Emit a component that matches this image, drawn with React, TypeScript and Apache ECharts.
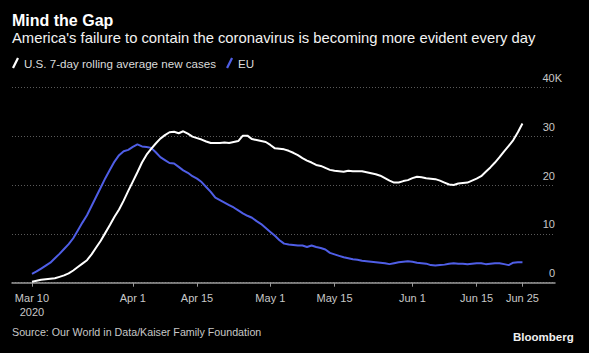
import React, { useEffect, useRef } from "react";
import * as echarts from "echarts";

// Daily values, in thousands of new cases, starting Mar 10 2020 (day 0) through Jun 25 (day 107)
const usCases: number[] = [
  0.2, 0.4, 0.6, 0.7, 0.8, 0.9, 1.2, 1.5, 1.9, 2.5,
  3.2, 3.9, 4.6, 5.8, 7.2, 8.6, 10.2, 11.8, 13.5, 15.0,
  16.8, 18.8, 20.7, 22.6, 24.6, 26.2, 27.4, 28.5, 29.5, 30.2,
  30.8, 30.9, 30.6, 31.0, 30.5, 29.9, 29.6, 29.3, 28.9, 28.6,
  28.6, 28.6, 28.7, 28.6, 28.8, 29.0, 30.1, 30.1, 29.4, 29.2,
  29.0, 28.8, 28.2, 27.5, 27.4, 27.3, 27.0, 26.6, 26.1, 25.5,
  25.0, 24.6, 24.1, 23.9, 23.5, 23.1, 22.9, 22.8, 22.7, 22.9,
  22.8, 22.8, 22.8, 22.6, 22.4, 22.2, 21.9, 21.4, 20.9, 20.5,
  20.5, 20.8, 21.0, 21.4, 21.7, 21.6, 21.4, 21.3, 21.2, 20.9,
  20.5, 20.1, 20.0, 20.3, 20.4, 20.5, 20.9, 21.3, 21.8, 22.7,
  23.6, 24.6, 25.7, 26.9, 28.0, 29.2, 30.8, 32.6,
];

const euCases: number[] = [
  1.8, 2.3, 2.9, 3.5, 4.1, 5.0, 5.9, 6.9, 7.9, 9.1,
  10.7, 12.3, 13.8, 15.7, 17.6, 19.5, 21.4, 23.1, 24.8, 26.1,
  26.9, 27.2, 27.8, 28.3, 27.9, 27.8, 27.6, 26.7, 25.7, 25.1,
  24.5, 24.4, 23.7, 23.0, 22.5, 21.8, 21.3, 20.6, 19.6, 18.6,
  17.4, 16.9, 16.4, 15.9, 15.4, 14.8, 14.2, 13.7, 13.3, 12.6,
  12.0, 11.2, 10.4, 9.6, 8.7, 8.0, 7.8, 7.7, 7.6, 7.6,
  7.3, 7.6, 7.3, 7.1, 6.8, 6.1, 5.8, 5.5, 5.2, 5.0,
  4.8, 4.7, 4.5, 4.4, 4.3, 4.2, 4.1, 4.0, 3.8, 4.0,
  4.2, 4.3, 4.4, 4.3, 4.1, 4.0, 3.9, 3.6, 3.5, 3.6,
  3.7, 3.9, 4.0, 3.9, 3.9, 3.8, 3.9, 4.0, 4.0, 3.8,
  3.9, 4.0, 4.0, 3.8, 3.6, 4.1, 4.2, 4.2,
];

// x tick positions (days since Mar 10) and their labels
const tickDays: number[] = [0, 22, 36, 52, 66, 83, 97, 107];
const tickLabels: string[] = ["Mar 10\n2020", "Apr 1", "Apr 15", "May 1", "May 15", "Jun 1", "Jun 15", "Jun 25"];

const yTicks: number[] = [0, 10, 20, 30, 40];
const seriesNames: string[] = ["U.S. 7-day rolling average new cases", "EU"];

const FONT = "Liberation Sans";
const LEG_ICON = "path://M0,10 L5,0 L7,1 L2,11 Z";

export default function App() {
  const ref = useRef<HTMLDivElement>(null);

  useEffect(() => {
    document.body.style.margin = "0";
    document.body.style.background = "#000";
    const chart = echarts.init(ref.current!, null, { renderer: "svg" });
    chart.setOption({
      animation: false,
      backgroundColor: "#000",
      title: [
        {
          text: "Mind the Gap",
          left: 12,
          top: 12,
          padding: 0,
          textStyle: { color: "#fff", fontSize: 16, fontWeight: "bold", fontFamily: FONT },
        },
        {
          text: "America's failure to contain the coronavirus is becoming more evident every day",
          left: 12,
          top: 30,
          padding: 0,
          textStyle: { color: "#f2f2f2", fontSize: 14.8, fontWeight: "normal", fontFamily: FONT },
        },
        {
          text: "Source: Our World in Data/Kaiser Family Foundation",
          left: 12,
          top: 326,
          padding: 0,
          textStyle: { color: "#c8c8c8", fontSize: 10.7, fontWeight: "normal", fontFamily: FONT },
        },
      ],
      graphic: [
        {
          type: "text",
          left: 513,
          top: 331,
          style: { text: "Bloomberg", fill: "#f0f0f0", font: `bold 11.5px "${FONT}"` },
        },
      ],
      legend: {
        left: 12,
        top: 57,
        padding: 0,
        itemWidth: 7,
        itemHeight: 11,
        itemGap: 10,
        textStyle: { color: "#dcdcdc", fontSize: 11.6, fontFamily: FONT },
        data: [
          { name: seriesNames[0], icon: LEG_ICON },
          { name: seriesNames[1], icon: LEG_ICON },
        ],
      },
      grid: { left: 12, right: 34, top: 87.3, bottom: 70.3, containLabel: false },
      xAxis: {
        type: "value",
        min: -4.36,
        max: 114.1,
        splitLine: { show: false },
        axisLine: { show: true, lineStyle: { color: "#9a9a9a", width: 1.5 } },
        axisTick: { show: true, customValues: tickDays, length: 4, lineStyle: { color: "#9a9a9a" } },
        axisLabel: {
          customValues: tickDays,
          color: "#c8c8c8",
          fontSize: 11,
          fontFamily: FONT,
          lineHeight: 14,
          margin: 8,
          formatter: (v: number) => {
            const i = tickDays.indexOf(Math.round(v));
            return i >= 0 ? tickLabels[i] : "";
          },
        },
      },
      yAxis: {
        type: "value",
        position: "right",
        min: 0,
        max: 40,
        interval: 10,
        axisLine: { show: false },
        axisTick: { show: false },
        splitLine: { show: true, lineStyle: { color: "#5a5a5a", type: [1, 2], width: 1 } },
        axisLabel: {
          inside: true,
          margin: -7,
          verticalAlign: "bottom",
          color: "#c8c8c8",
          fontSize: 11,
          fontFamily: FONT,
          formatter: (v: number) => (v === yTicks[yTicks.length - 1] ? `{k|${v}K}` : `{n|${v}}`),
          rich: {
            k: { color: "#c8c8c8", fontSize: 11, fontFamily: FONT, padding: [0, 0, 4, 0] },
            n: { color: "#c8c8c8", fontSize: 11, fontFamily: FONT, padding: [0, 7, 4, 0] },
          },
        },
      },
      series: [
        {
          name: seriesNames[0],
          type: "line",
          showSymbol: false,
          symbol: "none",
          color: "#ffffff",
          lineStyle: { color: "#ffffff", width: 2 },
          data: usCases.map((v, i) => [i, v]),
          z: 3,
        },
        {
          name: seriesNames[1],
          type: "line",
          showSymbol: false,
          symbol: "none",
          color: "#4f5ee6",
          lineStyle: { color: "#4f5ee6", width: 2 },
          data: euCases.map((v, i) => [i, v]),
          z: 2,
        },
      ],
    });
    return () => chart.dispose();
  }, []);

  return <div ref={ref} style={{ width: 589, height: 353, background: "#000" }} />;
}
